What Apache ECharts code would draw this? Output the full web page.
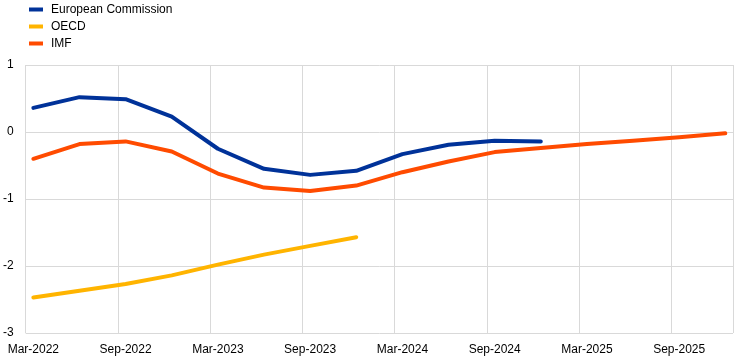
<!DOCTYPE html>
<html>
<head>
<meta charset="utf-8">
<script src="https://cdn.jsdelivr.net/npm/echarts@6/dist/echarts.min.js"></script>
<style>html,body{margin:0;padding:0;background:#fff}#c{width:746px;height:364px}</style>
</head>
<body>
<div id="c"></div>
<script>
// Monthly categories (axis positions)
const months = [
  'Mar-2022','Apr-2022','May-2022','Jun-2022','Jul-2022','Aug-2022','Sep-2022','Oct-2022','Nov-2022','Dec-2022',
  'Jan-2023','Feb-2023','Mar-2023','Apr-2023','May-2023','Jun-2023','Jul-2023','Aug-2023','Sep-2023','Oct-2023','Nov-2023','Dec-2023',
  'Jan-2024','Feb-2024','Mar-2024','Apr-2024','May-2024','Jun-2024','Jul-2024','Aug-2024','Sep-2024','Oct-2024','Nov-2024','Dec-2024',
  'Jan-2025','Feb-2025','Mar-2025','Apr-2025','May-2025','Jun-2025','Jul-2025','Aug-2025','Sep-2025','Oct-2025','Nov-2025','Dec-2025'
];
// Quarterly observation dates
const quarters = [
  'Mar-2022','Jun-2022','Sep-2022','Dec-2022',
  'Mar-2023','Jun-2023','Sep-2023','Dec-2023',
  'Mar-2024','Jun-2024','Sep-2024','Dec-2024',
  'Mar-2025','Jun-2025','Sep-2025','Dec-2025'
];
const ecValues   = [0.36, 0.52, 0.49, 0.23, -0.25, -0.55, -0.64, -0.58, -0.33, -0.19, -0.13, -0.14];
const oecdValues = [-2.47, -2.37, -2.27, -2.14, -1.98, -1.83, -1.70, -1.57];
const imfValues  = [-0.40, -0.18, -0.14, -0.29, -0.62, -0.83, -0.88, -0.80, -0.60, -0.44, -0.30, -0.24, -0.18, -0.13, -0.08, -0.02];
const yTicks = [-3, -2, -1, 0, 1];

function toMonthly(vals) {
  const out = months.map(() => null);
  vals.forEach((v, i) => { out[months.indexOf(quarters[i])] = v; });
  return out;
}

const font = 'Arial, "Liberation Sans", sans-serif';
const chart = echarts.init(document.getElementById('c'), null, {renderer: 'canvas'});
const mkSeries = (name, vals, color) => ({
  name, type: 'line', data: toMonthly(vals), connectNulls: true,
  showSymbol: false, symbol: 'none', smooth: false,
  lineStyle: {width: 4, color, cap: 'round', join: 'round'},
  itemStyle: {color}, emphasis: {disabled: true}, animation: false
});
chart.setOption({
  animation: false,
  textStyle: {fontFamily: font},
  legend: {
    orient: 'vertical', left: 24, top: -1.5, itemGap: 5,
    itemWidth: 14, itemHeight: 4, icon: 'rect',
    textStyle: {fontSize: 12, color: '#000', fontFamily: font, padding: [0, 0, 0, 3]},
    data: ['European Commission', 'OECD', 'IMF']
  },
  grid: {left: 25, right: 13, top: 65, bottom: 31, containLabel: false},
  xAxis: {
    type: 'category', data: months, boundaryGap: true,
    axisLine: {show: false},
    axisTick: {show: false},
    axisLabel: {
      interval: (i) => i % 6 === 0, color: '#000', fontSize: 12, fontFamily: font, margin: 11
    },
    splitLine: {show: true, interval: (i) => i % 6 === 0 && i < months.length, lineStyle: {color: '#d9d9d9', width: 1}}
  },
  yAxis: {
    type: 'value', min: yTicks[0], max: yTicks[yTicks.length - 1], interval: 1,
    axisLine: {show: false}, axisTick: {show: false},
    axisLabel: {color: '#000', fontSize: 12, fontFamily: font, margin: 12},
    splitLine: {show: true, lineStyle: {color: '#d9d9d9', width: 1}}
  },
  series: [
    mkSeries('European Commission', ecValues, '#003299'),
    mkSeries('OECD', oecdValues, '#FFB400'),
    mkSeries('IMF', imfValues, '#FF4B00')
  ]
});
</script>
</body>
</html>
